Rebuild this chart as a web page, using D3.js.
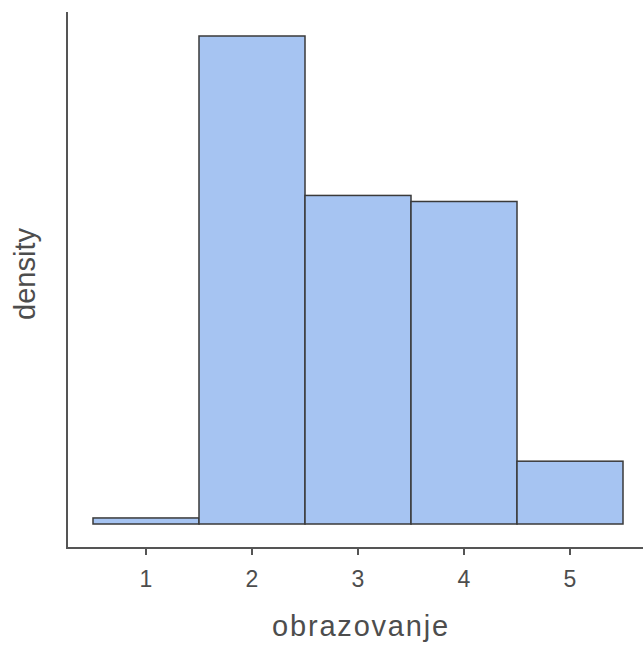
<!DOCTYPE html>
<meta charset="utf-8">
<title>Histogram</title>
<style>
body { margin: 0; background: #fff; }
text { font-family: "Liberation Sans", Arial, sans-serif; }
</style>
<body>
<svg></svg>
</body>
<script src="https://d3js.org/d3.v7.min.js"></script>
<script>

var binStart = [0.5, 1.5, 2.5, 3.5, 4.5],
    binEnd = [1.5, 2.5, 3.5, 4.5, 5.5],
    density = [0.005, 0.404, 0.272, 0.267, 0.052],
    xTicks = [1, 2, 3, 4, 5];

var width = 643,
    height = 645;

var svg = d3.select("svg").attr("width", width).attr("height", height);

var x = d3.scaleLinear().domain([0.5, 5.5]).range([93, 623]);
var y = d3.scaleLinear().domain([0, 0.404]).range([524, 36]);

var plotLeft = 67, plotBottom = 548, plotTop = 12;

svg.append("g").selectAll("rect")
    .data(density)
    .enter()
    .append("rect")
    .attr("x", (d, i) => x(binStart[i]))
    .attr("width", (d, i) => x(binEnd[i]) - x(binStart[i]))
    .attr("y", d => y(d))
    .attr("height", d => y(0) - y(d))
    .attr("fill", "#a6c4f2")
    .attr("stroke", "#3a3a3a")
    .attr("stroke-width", 1.5);

// axes
svg.append("line")
    .attr("x1", plotLeft).attr("x2", plotLeft)
    .attr("y1", plotTop).attr("y2", plotBottom + 1)
    .attr("stroke", "#555").attr("stroke-width", 2);

svg.append("line")
    .attr("x1", plotLeft - 1).attr("x2", width)
    .attr("y1", plotBottom).attr("y2", plotBottom)
    .attr("stroke", "#555").attr("stroke-width", 2);

var ticks = svg.append("g");
ticks.selectAll("line")
    .data(xTicks)
    .enter()
    .append("line")
    .attr("x1", d => x(d)).attr("x2", d => x(d))
    .attr("y1", plotBottom).attr("y2", plotBottom + 7)
    .attr("stroke", "#555").attr("stroke-width", 2);

ticks.selectAll("text")
    .data(xTicks)
    .enter()
    .append("text")
    .attr("x", d => x(d))
    .attr("y", 587)
    .attr("text-anchor", "middle")
    .attr("font-size", 23)
    .attr("fill", "#4d4d4d")
    .text(d => d);

svg.append("text")
    .attr("x", x(3) + 3)
    .attr("y", 636)
    .attr("text-anchor", "middle")
    .attr("font-size", 29)
    .attr("letter-spacing", 1.8)
    .attr("fill", "#4d4d4d")
    .text("obrazovanje");

svg.append("text")
    .attr("transform", "translate(35,274) rotate(-90)")
    .attr("text-anchor", "middle")
    .attr("font-size", 29)
    .attr("fill", "#4d4d4d")
    .text("density");

</script>
